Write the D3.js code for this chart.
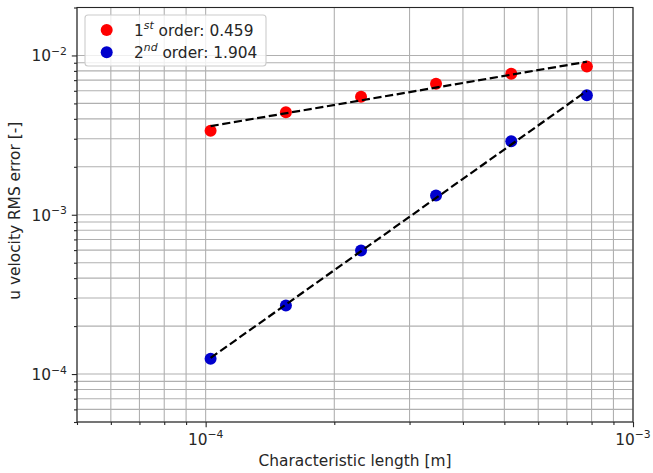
<!DOCTYPE html>
<html>
<head>
<meta charset="utf-8">
<script src="https://cdn.jsdelivr.net/npm/d3@7"></script>
<style>
  html, body { margin: 0; padding: 0; background: #fff; }
  svg { display: block; font-family: "DejaVu Sans", sans-serif; }
</style>
</head>
<body>
<svg id="chart" width="653" height="473"></svg>
<script>
// Characteristic length of each mesh [m]
const lengths = [1.027e-4, 1.541e-4, 2.31e-4, 3.46e-4, 5.19e-4, 7.80e-4];
// u velocity RMS error for the two schemes
const firstOrderErr  = [3.37e-3, 4.40e-3, 5.50e-3, 6.64e-3, 7.67e-3, 8.53e-3];
const secondOrderErr = [1.248e-4, 2.69e-4, 5.96e-4, 1.32e-3, 2.89e-3, 5.62e-3];
// Observed orders of convergence (slopes of the fitted lines)
const orders = [0.459, 1.904];
const seriesNames = ["1", "2"];
const seriesSups = ["st", "nd"];
const seriesColors = ["#ff0000", "#0000cd"];
// Axis ranges and decade tick labels
const xDomain = [5e-5, 1e-3];
const yDomain = [5e-5, 2e-2];
const xMajorExps = [-4, -3];
const yMajorExps = [-4, -3, -2];

const FS = 15.4, SUP = 10.8;

const svg = d3.select("#chart");
const M = { left: 77, right: 633, top: 7.5, bottom: 422 };

const x = d3.scaleLog().domain(xDomain).range([M.left, M.right]);
const y = d3.scaleLog().domain(yDomain).range([M.bottom, M.top]);

// every 1..9 multiple of each decade inside the domain
function logTicks(domain) {
  const out = [];
  const lo = Math.floor(Math.log10(domain[0])), hi = Math.ceil(Math.log10(domain[1]));
  for (let e = lo; e <= hi; e++) {
    for (let m = 1; m <= 9; m++) {
      const v = m * Math.pow(10, e);
      if (v >= domain[0] * 0.9999 && v <= domain[1] * 1.0001) out.push({ v, major: m === 1 });
    }
  }
  return out;
}
const xTicks = logTicks(xDomain);
const yTicks = logTicks(yDomain);

// grid (major and minor)
const grid = svg.append("g").attr("stroke", "#b0b0b0").attr("stroke-width", 1.1);
grid.selectAll("line.gx").data(xTicks).join("line")
  .attr("x1", d => x(d.v)).attr("x2", d => x(d.v))
  .attr("y1", M.top).attr("y2", M.bottom);
grid.selectAll("line.gy").data(yTicks).join("line")
  .attr("y1", d => y(d.v)).attr("y2", d => y(d.v))
  .attr("x1", M.left).attr("x2", M.right);

// axes through d3's axis generators
const xAxis = d3.axisBottom(x).tickValues(xTicks.map(d => d.v)).tickFormat("")
  .tickSizeOuter(0).tickSizeInner(0);
const yAxis = d3.axisLeft(y).tickValues(yTicks.map(d => d.v)).tickFormat("")
  .tickSizeOuter(0).tickSizeInner(0);
const gx = svg.append("g").attr("transform", `translate(0,${M.bottom})`).call(xAxis);
const gy = svg.append("g").attr("transform", `translate(${M.left},0)`).call(yAxis);
[gx, gy].forEach(g => g.select(".domain").remove());
gx.selectAll(".tick line").attr("stroke", "#262626").attr("stroke-width", 1.1)
  .attr("y2", d => xTicks.find(t => t.v === d).major ? 5.2 : 3);
gy.selectAll(".tick line").attr("stroke", "#262626").attr("stroke-width", 1.1)
  .attr("x2", d => yTicks.find(t => t.v === d).major ? -5.2 : -3);

// frame
svg.append("rect").attr("x", M.left).attr("y", M.top)
  .attr("width", M.right - M.left).attr("height", M.bottom - M.top)
  .attr("fill", "none").attr("stroke", "#262626").attr("stroke-width", 1.1);

// decade labels 10^n
function powLabel(sel, exp) {
  sel.append("tspan").text("10");
  sel.append("tspan").attr("dy", -6.5).attr("font-size", SUP).text("\u2212" + Math.abs(exp));
}
xMajorExps.forEach(e => {
  const t = svg.append("text").attr("x", x(Math.pow(10, e))).attr("y", 444.5)
    .attr("text-anchor", "middle").attr("font-size", FS).attr("fill", "#262626");
  powLabel(t, e);
});
yMajorExps.forEach(e => {
  const t = svg.append("text").attr("x", 67).attr("y", y(Math.pow(10, e)) + 6)
    .attr("text-anchor", "end").attr("font-size", FS).attr("fill", "#262626");
  powLabel(t, e);
});

// axis titles
svg.append("text").attr("x", (M.left + M.right) / 2).attr("y", 466)
  .attr("text-anchor", "middle").attr("font-size", FS).attr("fill", "#262626")
  .text("Characteristic length [m]");
svg.append("text")
  .attr("transform", `translate(20,${(M.top + M.bottom) / 2 - 4}) rotate(-90)`)
  .attr("text-anchor", "middle").attr("font-size", FS).attr("fill", "#262626")
  .text("u velocity RMS error [-]");

const series = [firstOrderErr, secondOrderErr];

// scatter points
series.forEach((vals, i) => {
  svg.append("g").selectAll("circle").data(vals).join("circle")
    .attr("cx", (d, j) => x(lengths[j])).attr("cy", d => y(d))
    .attr("r", 6).attr("fill", seriesColors[i]);
});

// fitted power-law lines with the stated order as slope in log-log space
const lx = lengths.map(Math.log10);
const mx = d3.mean(lx);
series.forEach((vals, i) => {
  const my = d3.mean(vals.map(Math.log10));
  const p = orders[i];
  const fit = v => Math.pow(10, my + p * (Math.log10(v) - mx));
  const ends = [lengths[0], lengths[lengths.length - 1]];
  svg.append("path")
    .attr("d", d3.line().x(d => x(d)).y(d => y(fit(d)))(ends))
    .attr("fill", "none").attr("stroke", "#000").attr("stroke-width", 2.2)
    .attr("stroke-dasharray", "8.2,3.6");
});

// legend
const lg = svg.append("g");
lg.append("rect").attr("x", 85).attr("y", 15).attr("width", 181).attr("height", 51)
  .attr("rx", 3).attr("fill", "#fff").attr("fill-opacity", 0.8)
  .attr("stroke", "#cccccc").attr("stroke-width", 1.1);
[0, 1].forEach(i => {
  const cy = 30 + i * 22.3;
  lg.append("circle").attr("cx", 106.7).attr("cy", cy).attr("r", 6).attr("fill", seriesColors[i]);
  const t = lg.append("text").attr("x", 134).attr("y", cy + 5.5)
    .attr("font-size", FS).attr("fill", "#262626");
  t.append("tspan").text(seriesNames[i]);
  t.append("tspan").attr("dy", -6.5).attr("font-size", SUP).attr("font-style", "italic").text(seriesSups[i]);
  t.append("tspan").attr("dy", 6.5).text(" order: " + orders[i].toFixed(3));
});
</script>
</body>
</html>
